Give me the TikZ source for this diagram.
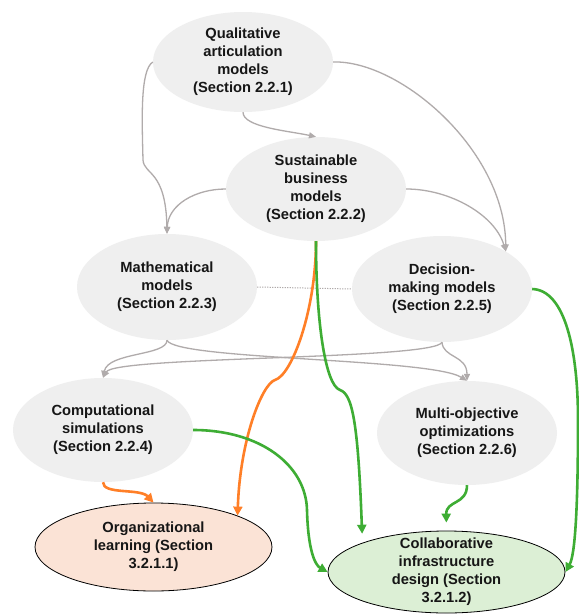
\documentclass[tikz,border=0pt]{standalone}
\usepackage{fontspec}
\setmainfont{Liberation Sans}
\usetikzlibrary{shapes.geometric,arrows.meta}
\definecolor{nodegray}{HTML}{EFEFEF}
\definecolor{edgegray}{HTML}{B0ABAB}
\definecolor{grn}{HTML}{3EAD34}
\definecolor{orangeline}{HTML}{FF7F27}
\definecolor{peach}{HTML}{FBE3D6}
\definecolor{mint}{HTML}{DCEFD5}
\definecolor{textc}{HTML}{161616}
\newcommand\ctext[1]{\vbox to 0pt{\vss\hbox{\begin{tabular}{@{}c@{}}#1\end{tabular}}\vss}}
\begin{document}
\begin{tikzpicture}[x=1pt,y=-1pt,
  topic/.style={ellipse, fill=nodegray, inner sep=0pt, font=\bfseries\fontsize{14.7}{18}\selectfont, text=textc, minimum width=180pt},
  outcome/.style={ellipse, draw=black, line width=0.8pt, inner sep=0pt, font=\bfseries\fontsize{14.7}{18}\selectfont, text=textc, minimum width=237pt},
  gline/.style={draw=edgegray, line width=1.3pt, -{Triangle[length=7pt,width=6pt]}},
  gnline/.style={draw=grn, line width=2.6pt, -{Triangle[length=9pt,width=9pt]}},
  orline/.style={draw=orangeline, line width=2.6pt, -{Triangle[length=9pt,width=9pt]}}]
\fill[white] (0,0) rectangle (579,614);
\useasboundingbox (0,0) rectangle (579,614);

\node[topic, minimum height=100pt] (q) at (243,62) {\ctext{Qualitative\\articulation\\models\\(Section 2.2.1)}};
\node[topic, minimum height=104pt] (s) at (316,189) {\ctext{Sustainable\\business\\models\\(Section 2.2.2)}};
\node[topic, minimum height=106pt] (m) at (167,287) {\ctext{Mathematical\\models\\(Section 2.2.3)}};
\node[topic, minimum height=106pt] (d) at (442,289) {\ctext{Decision-\\making models\\(Section 2.2.5)}};
\node[topic, minimum height=104pt] (c) at (103,430) {\ctext{Computational\\simulations\\(Section 2.2.4)}};
\node[topic, minimum height=104pt] (mo) at (467,433) {\ctext{Multi-objective\\optimizations\\(Section 2.2.6)}};
\node[outcome, fill=peach, minimum height=88pt] (org) at (153.5,547) {\ctext{Organizational\\learning (Section\\3.2.1.1)}};
\node[outcome, fill=mint, minimum height=82pt] (col) at (446.5,572) {\ctext{Collaborative\\infrastructure\\design (Section\\3.2.1.2)}};

% gray connectors
\draw[gline] (q.south) .. controls +(0,15) and +(-28,-6) .. (s.north);
\draw[gline] (q.west) .. controls (140,70) and (142,120) .. (143,160) .. controls (144,175) and (166,170) .. (m.north);
\draw[gline] (q.east) .. controls (400,60) and (505,150) .. (d.north east);
\draw[gline] (s.west) .. controls (195,189) and (168,205) .. (m.north);
\draw[gline] (s.east) .. controls (450,189) and (495,215) .. (d.north east);
\draw[gline] (m.south) .. controls (167,356) and (108,352) .. (c.north);
\draw[gline] (m.south) .. controls (175,360) and (430,358) .. (mo.north);
\draw[gline] (d.south) .. controls (435,360) and (115,356) .. (c.north);
\draw[gline] (d.south) .. controls (443,358) and (467,355) .. (mo.north);
\draw[edgegray, line width=1pt, dash pattern=on 1.2pt off 1.3pt] (m.east) -- (d.west);

% orange connectors
\draw[orline] (s.south) .. controls (316,310) and (292,375) .. (275,380) .. controls (262,384) and (240,440) .. (org.north east);
\draw[orline] (c.south) .. controls (103,495) and (140,488) .. (org.north);

% green connectors
\draw[gnline, shorten >=9pt] (s.south) .. controls (316,320) and (325,385) .. (340,390) .. controls (352,394) and (358,420) .. (col.north west);
\draw[gnline] (c.east) .. controls (260,430) and (306,465) .. (307,510) .. controls (308,550) and (315,565) .. (col.west);
\draw[gnline] (d.east) .. controls (565,290) and (578,350) .. (578,420) .. controls (578,510) and (575,555) .. (col.east);
\draw[gnline, shorten >=8pt] (mo.south) .. controls (467,505) and (446,500) .. (col.north);
\end{tikzpicture}
\end{document}
